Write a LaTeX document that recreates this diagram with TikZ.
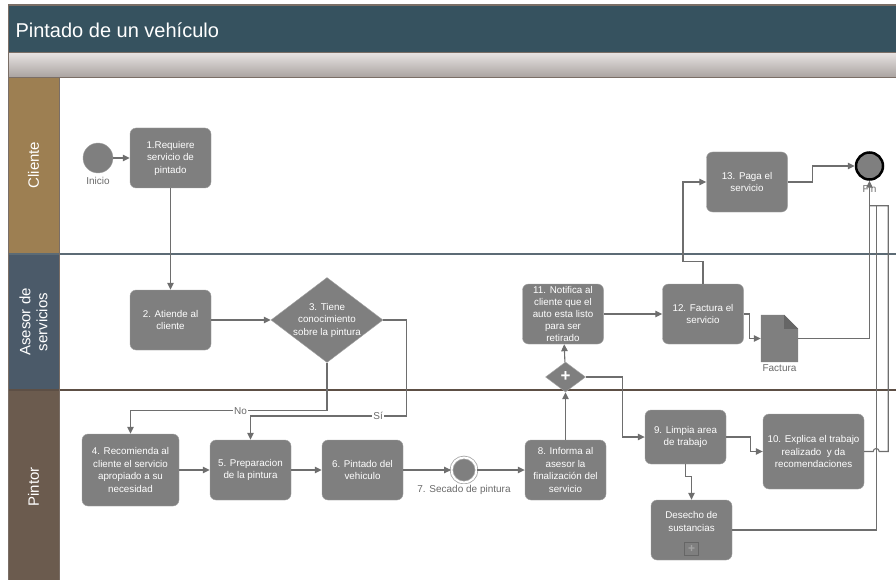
\documentclass[tikz,border=0pt]{standalone}
\usepackage{fontspec}
\setmainfont{Liberation Sans}
\usepackage{xcolor}
\usetikzlibrary{arrows.meta,shapes.geometric}

\definecolor{titlebar}{HTML}{36525F}
\definecolor{bandtop}{HTML}{E6E2E1}
\definecolor{bandbot}{HTML}{A8A19E}
\definecolor{laneA}{HTML}{9D7F52}
\definecolor{laneB}{HTML}{4B5A69}
\definecolor{laneC}{HTML}{6B5B4E}
\definecolor{sepA}{HTML}{5C6B75}
\definecolor{sepB}{HTML}{5D4F45}
\definecolor{taskfill}{HTML}{7F7F7F}
\definecolor{taskline}{HTML}{A3A3A3}
\definecolor{foldgray}{HTML}{666666}
\definecolor{flow}{HTML}{6E6E6E}
\definecolor{lblgray}{HTML}{6A6A6A}
\definecolor{framegray}{HTML}{7A6E66}

\begin{document}
\begin{tikzpicture}[
            x=1pt, y=-1pt,
            font=\fontsize{9.8}{12.5}\selectfont,
            task/.style={draw=taskline, fill=taskfill, rounded corners=6pt,
            text=white, align=center, inner sep=1pt,
            minimum width=81pt, minimum height=60pt},
            gate/.style={diamond, draw=taskline, fill=taskfill, text=white,
            align=center, inner sep=0pt},
            evstart/.style={circle, draw=taskline, fill=taskfill,
            minimum size=30pt, inner sep=0pt},
            evmid/.style={circle, draw=taskline, line width=.8pt, fill=taskfill,
            double=white, double distance=2pt, minimum size=25pt, inner sep=0pt},
            evend/.style={circle, draw=black, line width=2.5pt, fill=taskfill,
            minimum size=27pt, inner sep=0pt},
            lbl/.style={text=lblgray, font=\fontsize{10}{12}\selectfont,
            fill=white, inner sep=1pt},
            lane/.style={text=white, rotate=90, align=center,
            font=\fontsize{15}{17}\selectfont},
            ar/.style={draw=flow, line width=1.1pt, -{Triangle[length=7pt,width=6.5pt]}},
            ln/.style={draw=flow, line width=1.1pt}
        ]
\useasboundingbox (0,0) rectangle (896,580);

% Title bar and header band
            \fill[titlebar] (8,5) rectangle (896,53);
            \draw[framegray, line width=1.2pt] (8,5) -- (896,5);
            \shade[top color=bandtop, bottom color=bandbot] (8,53) rectangle (896,78);
            \draw[framegray, line width=1pt] (8,53) -- (896,53);
            \draw[framegray, line width=1pt] (8,78) -- (896,78);
            \node[anchor=west, text=white, font=\fontsize{20}{24}\selectfont]
                (title) at (12,30) {Pintado de un vehículo};

% Lanes
            \fill[laneA] (8,78) rectangle (59,254);
            \fill[laneB] (8,254) rectangle (59,390);
            \fill[laneC] (8,390) rectangle (59,580);
            \draw[sepA, line width=1.5pt] (8,254) -- (896,254);
            \draw[sepB, line width=1.5pt] (8,390) -- (896,390);
            \draw[framegray] (59,78) -- (59,580);
            \draw[framegray] (8,5) -- (8,580);
            \node[lane] (laneCli) at (33.5,165) {Cliente};
            \node[lane] (laneAse) at (33.5,322) {Asesor de\\servicios};
            \node[lane] (lanePin) at (33.5,487) {Pintor};

% Cliente
            \node[evstart, label={[lbl, label distance=2.5pt]below:Inicio}] (ini) at (98,158) {};
            \node[task] (t1) at (170.5,158) {1.Requiere\\servicio de\\pintado};
            \node[task] (t13) at (747,182) {13. Paga el\\servicio};
            \node[evend, label={[lbl, fill=none, label distance=3pt]below:Fin}] (fin) at (869.5,166) {};

% Asesor de servicios
            \node[task] (t2) at (170.5,320) {2. Atiende al\\cliente};
            \node[gate, minimum width=112pt, minimum height=85pt, inner sep=-12pt]
                (g3) at (327,320) {3. Tiene\\conocimiento\\sobre la pintura};
            \node[task, inner sep=0pt, font=\fontsize{9.8}{12}\selectfont] (t11) at (563,314)
                {11. Notifica al\\cliente que el\\auto esta listo\\para ser\\retirado};
            \node[task] (t12) at (703,314) {12. Factura el\\servicio};
            \node[minimum width=37pt, minimum height=47pt, inner sep=0pt,
                label={[lbl, label distance=1pt]below:Factura}] (fact) at (779.5,338.5) {};
            \fill[taskfill] (fact.south west) -- (fact.north west) -- ([xshift=-14pt]fact.north east)
                -- ([yshift=-14pt]fact.north east) -- (fact.south east) -- cycle;
            \fill[foldgray] ([xshift=-14pt]fact.north east) -- ([xshift=-14pt,yshift=-14pt]fact.north east)
                -- ([yshift=-14pt]fact.north east) -- cycle;
            \node[gate, minimum width=40pt, minimum height=30pt,
                font=\bfseries\fontsize{17}{17}\selectfont] (gw) at (565.5,377) {+};

% Pintor
            \node[task, minimum width=97pt, minimum height=72pt] (t4) at (130.5,470)
                {4. Recomienda al\\cliente el servicio\\apropiado a su\\necesidad};
            \node[task] (t5) at (250.5,470) {5. Preparacion\\de la pintura};
            \node[task] (t6) at (362.5,470) {6. Pintado del\\vehiculo};
            \node[evmid, label={[lbl, label distance=1pt]below:7. Secado de pintura}] (e7) at (464,470) {};
            \node[task] (t8) at (565.5,470) {8. Informa al\\asesor la\\finalización del\\servicio};
            \node[task, minimum height=54pt] (t9) at (685.5,437) {9. Limpia area\\de trabajo};
            \node[task, minimum width=101pt, minimum height=75pt] (t10) at (813.5,451.5)
                {10. Explica el trabajo\\realizado \ y da\\recomendaciones};
            \node[task] (des) at (691.5,530) {Desecho de\\sustancias\\[5pt]};
            \node[draw=foldgray, inner sep=0pt, minimum width=14pt, minimum height=13pt,
                text=taskline, font=\bfseries\fontsize{12}{12}\selectfont] (desmk) at (691.5,548.5) {+};

% Sequence flows
            \draw[ar] (ini) -- (t1);
            \draw[ar] (t1) -- (t2);
            \draw[ar] (t2) -- (g3);
            \draw[ar] (g3.south) -- ++(0,48) -| node[lbl, pos=0.22] {No} (t4.north);
            \draw[ar] (g3.east) -- ++(23,0) -- ++(0,96) -| node[lbl, pos=0.09] {Sí} (t5.north);
            \draw[ar] (t4) -- (t5);
            \draw[ar] (t5) -- (t6);
            \draw[ar] (t6) -- (e7);
            \draw[ar] (e7) -- (t8);
            \draw[ar] (t8) -- (gw);
            \draw[ar] (gw) -- (t11);
            \draw[ar] (gw.east) -- ++(37,0) |- (t9.west);
            \draw[ar] (t11) -- (t12);
            \draw[ar] (t12.north) -- ++(0,-22) -- ++(-20,0) |- (t13.west);
            \draw[ar] (t12.east) -- ++(6,0) |- (fact.west);
            \draw[ar] (fact.east) -| (fin.south);
            \draw[ar] (t13.east) -- ++(25,0) |- (fin.west);
            \draw[ar] (t9.east) -- ++(24,0) |- (t10.west);
            \draw[ar] (t9.south) -- ++(0,12) -| (des.north);
% both join the flow into Fin
            \draw[ln] (des.east) -| ([xshift=7pt,yshift=-25pt]fin.south);
            \draw[ln] (t10.east) -- ++(9,0) arc[start angle=180, end angle=0, radius=3pt]
                -- ++(9,0) |- ([yshift=-25pt]fin.south);
        \end{tikzpicture}
\end{document}
